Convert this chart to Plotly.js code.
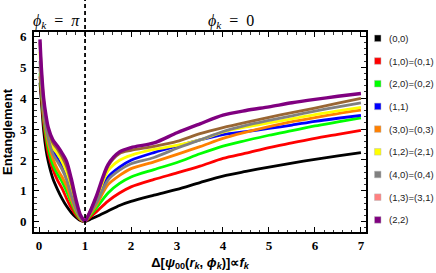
<!DOCTYPE html>
<html><head><meta charset="utf-8">
<script src="https://cdn.plot.ly/plotly-3.0.1.min.js"></script>
<style>html,body{margin:0;padding:0;background:#fff}#chart{width:436px;height:273px}</style>
</head><body><div id="chart"></div>
<script>
// x positions (left branch: phi_k = pi, right branch: phi_k = 0)
const xLeft  = [0.02, 0.05, 0.1, 0.15, 0.2, 0.3, 0.4, 0.5, 0.6, 0.7, 0.8, 0.9, 1.0];
const xRight = [1, 1.1, 1.25, 1.5, 1.75, 2, 2.5, 3, 3.5, 4, 4.5, 5, 5.5, 6, 6.5, 7];

const seriesNames = ["(0,0)", "(1,0)=(0,1)", "(2,0)=(0,2)", "(1,1)", "(3,0)=(0,3)", "(1,2)=(2,1)", "(4,0)=(0,4)", "(1,3)=(3,1)", "(2,2)"];

const s00_L = [4.5, 3.9, 2.95, 2.35, 1.95, 1.4, 1.05, 0.75, 0.5, 0.3, 0.15, 0.04, 0];
const s10_L = [4.7, 4.1, 3.2, 2.65, 2.2, 1.7, 1.35, 1.08, 0.75, 0.45, 0.22, 0.06, 0];
const s20_L = [4.8, 4.2, 3.35, 2.8, 2.4, 1.85, 1.55, 1.3, 0.98, 0.62, 0.3, 0.08, 0];
const s11_L = [5.0, 4.4, 3.5, 3.0, 2.7, 2.3, 2.05, 1.78, 1.42, 0.95, 0.48, 0.14, 0];
const s30_L = [5.0, 4.35, 3.45, 2.95, 2.55, 2.05, 1.7, 1.45, 1.15, 0.72, 0.36, 0.1, 0];
const s12_L = [5.5, 4.7, 3.75, 3.2, 2.85, 2.4, 2.2, 1.95, 1.6, 1.1, 0.55, 0.16, 0];
const s40_L = [5.2, 4.5, 3.6, 3.05, 2.7, 2.2, 1.95, 1.7, 1.35, 0.85, 0.42, 0.12, 0];
const s13_L = [5.8, 4.9, 3.9, 3.35, 3.0, 2.55, 2.35, 2.1, 1.78, 1.25, 0.64, 0.19, 0];
const s22_L = [5.9, 5.0, 4.0, 3.45, 3.05, 2.65, 2.45, 2.22, 1.95, 1.4, 0.74, 0.22, 0];

const s00_R = [0, 0.07, 0.17, 0.35, 0.53, 0.66, 0.86, 1.05, 1.27, 1.48, 1.63, 1.77, 1.9, 2.02, 2.13, 2.24];
const s10_R = [0, 0.13, 0.33, 0.67, 0.93, 1.13, 1.37, 1.58, 1.8, 2.05, 2.22, 2.4, 2.55, 2.7, 2.83, 2.96];
const s20_R = [0, 0.18, 0.45, 0.93, 1.24, 1.45, 1.69, 1.92, 2.2, 2.45, 2.63, 2.8, 2.95, 3.1, 3.23, 3.36];
const s11_R = [0, 0.28, 0.68, 1.45, 1.77, 1.99, 2.24, 2.45, 2.65, 2.82, 2.92, 3.02, 3.13, 3.25, 3.35, 3.44];
const s30_R = [0, 0.22, 0.55, 1.2, 1.5, 1.72, 1.94, 2.18, 2.43, 2.7, 2.9, 3.08, 3.24, 3.37, 3.5, 3.61];
const s12_R = [0, 0.3, 0.75, 1.65, 1.99, 2.15, 2.34, 2.47, 2.65, 2.9, 3.07, 3.2, 3.33, 3.47, 3.59, 3.70];
const s40_R = [0, 0.25, 0.62, 1.35, 1.67, 1.88, 2.08, 2.38, 2.65, 2.92, 3.12, 3.28, 3.43, 3.58, 3.72, 3.85];
const s13_R = [0, 0.3, 0.8, 1.8, 2.21, 2.31, 2.44, 2.6, 2.85, 3.05, 3.22, 3.38, 3.53, 3.68, 3.84, 3.99];
const s22_R = [0, 0.3, 0.85, 1.85, 2.26, 2.40, 2.55, 2.88, 3.17, 3.45, 3.6, 3.72, 3.85, 3.96, 4.06, 4.15];

const xTicks = [0, 1, 2, 3, 4, 5, 6, 7];
const yTicks = [0, 1, 2, 3, 4, 5, 6];

const leftSets  = [s00_L, s10_L, s20_L, s11_L, s30_L, s12_L, s40_L, s13_L, s22_L];
const rightSets = [s00_R, s10_R, s20_R, s11_R, s30_R, s12_R, s40_R, s13_R, s22_R];
const lineColors   = ["#000000", "#ff0000", "#00ff00", "#0000ff", "#ff8000", "#ffff00", "#808080", "#996633", "#800080"];
const legendColors = ["#000000", "#ff0000", "#00ff00", "#0000ff", "#ff8000", "#ffff00", "#808080", "#ff8080", "#800080"];

const traces = [];
for (let i = 0; i < seriesNames.length; i++) {
  const w = i === 8 ? 3.4 : 2.8;
  traces.push({x: xLeft, y: leftSets[i], mode: 'lines', name: seriesNames[i], showlegend: false,
    line: {color: lineColors[i], width: w, shape: 'spline', smoothing: 0.8}, hoverinfo: 'skip'});
  traces.push({x: xRight, y: rightSets[i], mode: 'lines', name: seriesNames[i], showlegend: false,
    line: {color: lineColors[i], width: w, shape: 'spline', smoothing: 0.8}, hoverinfo: 'skip'});
}

// plot area geometry in px (for paper-coordinate placement of legend)
const W = 436, H = 273, mL = 34, mR = 70, mT = 32, mB = 41;
const pw = W - mL - mR, ph = H - mT - mB;
const px2x = p => (p - mL) / pw;
const py2y = p => (H - mB - p) / ph;

const serifFam = '"Liberation Serif", "Times New Roman", serif';
const sansFam = '"Liberation Sans", Arial, sans-serif';
const nb = '\u00a0';

const shapes = [{type: 'line', xref: 'x', yref: 'paper', x0: 1, x1: 1, y0: 0, y1: py2y(0),
  line: {color: '#000', width: 1.8, dash: '4px,3px'}}];
const annotations = [
  {xref: 'paper', yref: 'paper', x: px2x(31), y: py2y(21), text: '<i>ϕ</i><sub><i>k</i></sub>' + nb + nb + '=' + nb + nb + '<i>π</i>', showarrow: false,
    font: {family: serifFam, size: 16, color: '#000'}, xanchor: 'left', yanchor: 'middle'},
  {xref: 'paper', yref: 'paper', x: px2x(206), y: py2y(21), text: '<i>ϕ</i><sub><i>k</i></sub>' + nb + nb + '=' + nb + nb + '0', showarrow: false,
    font: {family: serifFam, size: 16, color: '#000'}, xanchor: 'left', yanchor: 'middle'}
];
for (let i = 0; i < seriesNames.length; i++) {
  const cy = 38.3 + 22.7 * i;
  shapes.push({type: 'rect', xref: 'paper', yref: 'paper',
    x0: px2x(374.5), x1: px2x(381), y0: py2y(cy + 3.3), y1: py2y(cy - 3.3),
    fillcolor: legendColors[i], line: {color: '#bbbbbb', width: 0.5}});
  annotations.push({xref: 'paper', yref: 'paper', x: px2x(387), y: py2y(cy), text: seriesNames[i], showarrow: false,
    xanchor: 'left', yanchor: 'middle', font: {family: sansFam, size: 9.5, color: '#222'}});
}

const tickFont = {family: serifFam, size: 13, color: '#000', weight: 'bold'};
const layout = {
  width: W, height: H, margin: {l: mL, r: mR, t: mT, b: mB},
  paper_bgcolor: '#fff', plot_bgcolor: '#fff', showlegend: false,
  xaxis: {range: [-0.11, 7.11], tickvals: xTicks, ticktext: xTicks.map(String), ticks: 'inside', ticklen: 5, tickwidth: 1,
    tickcolor: '#000', showline: true, linecolor: '#000', linewidth: 1.8, mirror: 'allticks', showgrid: false, zeroline: false,
    tickfont: tickFont, ticklabelstandoff: 1,
    minor: {dtick: 0.2, tick0: 0, ticks: 'inside', ticklen: 2.5, tickcolor: '#000', tickwidth: 0.8, showgrid: false},
    title: {text: '<b>Δ[<i>ψ</i><sub>00</sub>(<i>r</i><sub><i>k</i></sub>, <i>ϕ</i><sub><i>k</i></sub>)]∝<i>f</i><sub><i>k</i></sub></b>',
      font: {family: sansFam, size: 13, color: '#000'}, standoff: 5}},
  yaxis: {range: [-0.33, 6.14], tickvals: yTicks, ticktext: yTicks.map(String), ticks: 'inside', ticklen: 5, tickwidth: 1,
    tickcolor: '#000', showline: true, linecolor: '#000', linewidth: 1.8, mirror: 'allticks', showgrid: false, zeroline: false,
    tickfont: tickFont, ticklabelstandoff: 3,
    minor: {dtick: 0.2, tick0: 0, ticks: 'inside', ticklen: 2.5, tickcolor: '#000', tickwidth: 0.8, showgrid: false},
    title: {text: '<b>Entanglement</b>', font: {family: sansFam, size: 13, color: '#000'}, standoff: 5}},
  shapes: shapes, annotations: annotations
};
Plotly.newPlot('chart', traces, layout, {staticPlot: true, displayModeBar: false});
</script></body></html>
